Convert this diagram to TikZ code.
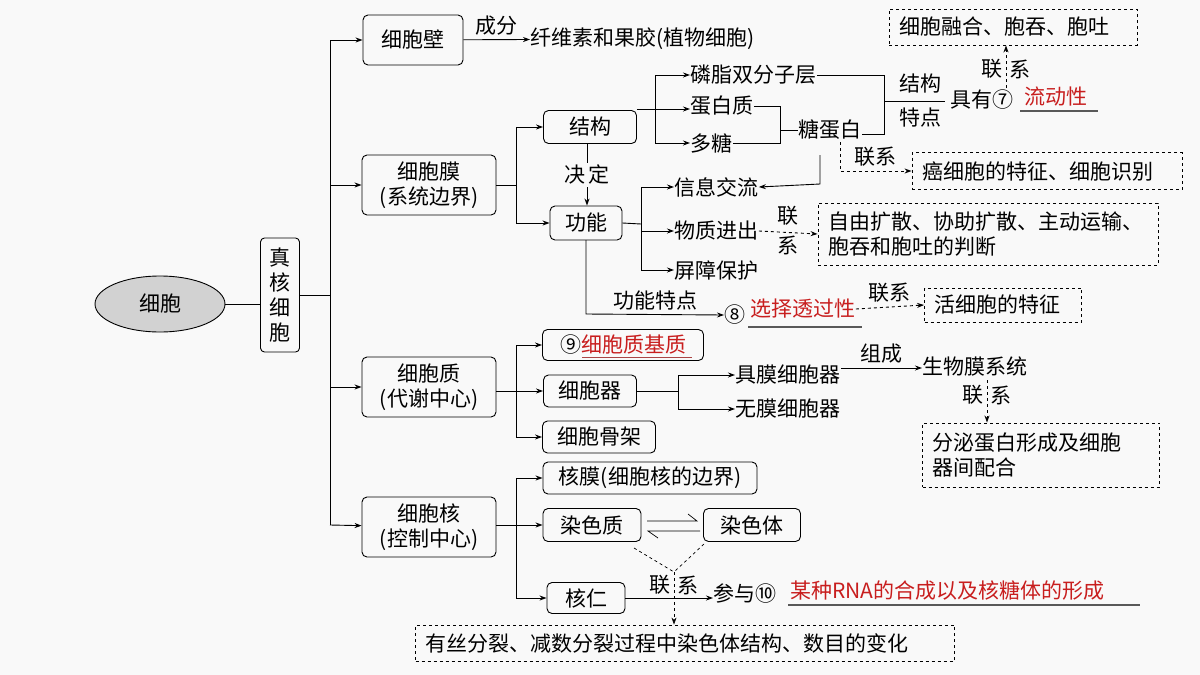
\documentclass[tikz,border=0pt]{standalone}
\usepackage{fontspec}
\setmainfont{Noto Sans CJK SC}
\usetikzlibrary{shapes.geometric,arrows.meta}
\definecolor{myred}{RGB}{200,30,30}
\begin{document}
\begin{tikzpicture}[x=1pt,y=-1pt,line width=0.9pt,
  every node/.style={font=\fontsize{21}{25}\selectfont,inner sep=0pt},
  box/.style={draw,rounded corners=5pt,inner xsep=7pt,inner ysep=5pt,align=center},
  dbox/.style={draw,dashed,inner xsep=10pt,inner ysep=5pt,align=left,text width=#1},
  red/.style={text=myred},
  arr/.style={-{Stealth[length=7pt,width=5pt]}},
  darr/.style={dashed,-{Stealth[length=7pt,width=5pt]}},
  ul/.style={draw=gray!70!black,line width=1.2pt}]
\useasboundingbox (0,0) rectangle (1200,675);
\fill[gray!5] (0,0) rectangle (1200,675);
% main
\node[ellipse,draw,fill=gray!35,minimum width=130,minimum height=56] (cell) at (160,304) {细胞};
\node[draw,rounded corners=4pt,minimum width=39,minimum height=114,align=center] (zh) at (280,295) {真\\核\\细\\胞};
\draw (cell.east) -- (zh.west |- cell.east);
\coordinate (t0) at (330,40); \coordinate (t1) at (330,525);
\draw (zh.east) -- (330,295);
\draw (t0) -- (t1);
\node[box,minimum width=100,minimum height=50] (bi) at (413,40) {细胞壁};
\node[box,minimum width=134,minimum height=60] (mo) at (429,185) {细胞膜\\(系统边界)};
\node[box,minimum width=134,minimum height=60] (zhi) at (429,387) {细胞质\\(代谢中心)};
\node[box,minimum width=134,minimum height=60] (he) at (429,527) {细胞核\\(控制中心)};
\draw[arr] (t0) -- (bi);
\draw[arr] (330,185) -- (mo);
\draw[arr] (330,387) -- (zhi);
\draw[arr] (t1) -- (he);
% wall
\node[anchor=west] (xw) at (530,39) {纤维素和果胶(植物细胞)};
\draw[arr] (bi) -- node[above=4pt]{成分} (xw);
% membrane
\node[box,minimum width=93,minimum height=33] (jg) at (590,127) {结构};
\node[box,minimum width=72,minimum height=34] (gn) at (586,223) {功能};
\draw (mo.east) -- (516,185);
\draw[arr] (516,185) |- (jg.west);
\draw[arr] (516,185) |- (gn.west);
\draw[arr] (jg.south -| 587,0) -- node[fill=gray!5,inner sep=2pt]{决\,定} (gn.north -| 587,0);
\node[anchor=west] (lz) at (690,75) {磷脂双分子层};
\node[anchor=west] (db) at (690,106) {蛋白质};
\node[anchor=west] (dt) at (690,143) {多糖};
\draw (jg.east |- 0,109) -- (655,109);
\draw[arr] (655,109) |- (lz.west);
\draw[arr] (655,109) -- (db.west |- 0,109);
\draw[arr] (655,109) |- (dt.west);
\node (tdb) at (830,130) {糖蛋白};
\draw (db.east) -- (780,106) -- (780,143) -- (dt.east);
\draw (780,130) -- (tdb.west);
\draw (lz.east) -- (884,75) -- (884,134) -- (tdb.east |- 0,134);
\draw (884,101) -- (945,101);
\node at (920,84) {结构};
\node at (920,118) {特点};
\node[anchor=west] (jy) at (950,100) {具有⑦};
\node[red,anchor=west] (ldx) at (1024,97) {流动性};
\draw[ul] (1020,111) -- (1098,111);
\node[dbox=228pt,minimum height=36] (rh) at (1013,27) {细胞融合、胞吞、胞吐};
\draw[darr] (1006,88) -- (rh.south -| 1006,0);
\node at (992,69) {联}; \node at (1020,69) {系};
\node[dbox=250pt,minimum height=37] (ax) at (1047,171) {癌细胞的特征、细胞识别};
\draw[darr] (840,142) |- (ax.west) node[pos=0.75,above=4pt]{联系};
\node[anchor=west] (xx) at (674,187) {信息交流};
\node[anchor=west] (wz) at (674,231) {物质进出};
\node[anchor=west] (pz) at (674,270) {屏障保护};
\coordinate (g1) at (820,155);
\draw[arr] (g1) -- (820,184) -- (xx.east);
\draw (gn.east) -- (641,224);
\draw[arr] (641,224) |- (xx.west);
\draw[arr] (641,224) |- (wz.west);
\draw[arr] (641,224) |- (pz.west);
\node[dbox=320pt,minimum height=62] (zy) at (988,234) {自由扩散、协助扩散、主动运输、\\胞吞和胞吐的判断};
\draw[darr] (wz.east) -- (zy.west);
\node at (788,216) {联}; \node at (788,245) {系};
\node[anchor=west] (n8) at (724,315) {⑧};
\node[red,anchor=west] (xz) at (750,309) {选择透过性};
\draw[ul] (748,327) -- (862,327);
\draw[arr] (586,240) -- (586,314) -- node[above=4pt,pos=0.5]{功能特点} (n8.west);
\node[dbox=137pt,minimum height=34] (hx) at (1003,305) {活细胞的特征};
\draw[darr] (xz.east) -- node[above=4pt]{联系} (hx.west);
% cytoplasm
\node[box,minimum width=161,minimum height=31] (jz) at (623,345) {⑨\textcolor{myred}{细胞质基质}};
\draw[ul,draw=myred!60!gray,line width=0.8pt] (582,357) -- (692,357);
\node[box,minimum width=93,minimum height=32] (xbq) at (590,391) {细胞器};
\node[box,minimum width=113,minimum height=32] (gj) at (599,437) {细胞骨架};
\draw (zhi.east |- 0,391) -- (516,391);
\draw[arr] (516,391) |- (jz.west);
\draw[arr] (516,391) -- (xbq.west);
\draw[arr] (516,391) |- (gj.west);
\node[anchor=west] (jm) at (735,375) {具膜细胞器};
\node[anchor=west] (wm) at (735,409) {无膜细胞器};
\draw (xbq.east) -- (678,391);
\draw[arr] (678,391) |- (jm.west);
\draw[arr] (678,391) |- (wm.west);
\node[anchor=west] (sw) at (922,366) {生物膜系统};
\draw[arr] (jm.east |- 0,368) -- node[above=4pt]{组成} (sw.west |- 0,368);
\node[dbox=217pt,minimum height=64] (fm) at (1041,455) {分泌蛋白形成及细胞\\器间配合};
\draw[darr] (987,380) -- (fm.north -| 987,0);
\node at (973,395) {联}; \node at (1001,395) {系};
% nucleus
\node[box,minimum width=214,minimum height=32] (hm) at (650,478) {核膜(细胞核的边界)};
\node[box,minimum width=98,minimum height=33] (rsz) at (592,525) {染色质};
\node[box,minimum width=78,minimum height=31] (hr) at (586,598) {核仁};
\node[box,minimum width=97,minimum height=33] (rst) at (752,525) {染色体};
\draw (he.east |- 0,525) -- (516,525);
\draw[arr] (516,525) |- (hm.west);
\draw[arr] (516,525) -- (rsz.west);
\draw[arr] (516,525) |- (hr.west);
\draw[line width=0.7pt] (647,521) -- (697,521) -- (688,514);
\draw[line width=0.7pt] (700,531) -- (648,531) -- (658,538);
\coordinate (mj) at (674,572);
\draw[dashed,line width=0.7pt] (634,548) -- (mj);
\draw[dashed,line width=0.7pt] (704,544) -- (mj);
\node[dbox=519pt,minimum height=36] (ys) at (685,643) {有丝分裂、减数分裂过程中染色体结构、数目的变化};
\draw[darr,line width=0.7pt] (mj) -- (ys.north -| mj);
\node at (660,585) {联}; \node at (688,585) {系};
\node[anchor=west] (cy) at (713,594) {参与⑩};
\node[red,anchor=west] (rna) at (790,591) {某种RNA的合成以及核糖体的形成};
\draw[ul] (788,605) -- (1140,605);
\draw[arr] (hr.east) -- (cy.west |- hr.east);
\end{tikzpicture}
\end{document}
